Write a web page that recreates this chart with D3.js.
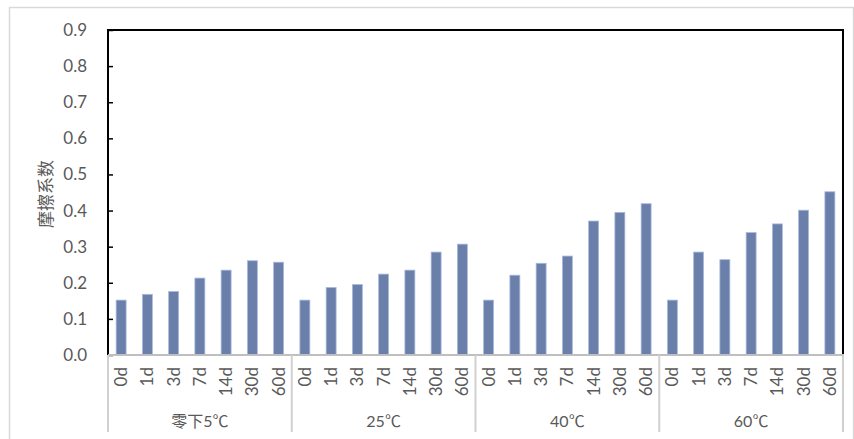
<!DOCTYPE html>
<html>
<head>
<meta charset="utf-8">
<script src="https://cdn.jsdelivr.net/npm/d3@7"></script>
<style>
  body { margin: 0; background: #fff; }
  text { font-family: Lato, "Noto Sans CJK SC", sans-serif; }
</style>
</head>
<body>
<div id="chart"></div>
<script>
// data
const groups = ["零下5℃", "25℃", "40℃", "60℃"];
const days = ["0d", "1d", "3d", "7d", "14d", "30d", "60d"];
const minus5 = [0.152, 0.168, 0.176, 0.213, 0.235, 0.261, 0.257];
const t25 = [0.152, 0.187, 0.195, 0.224, 0.235, 0.285, 0.307];
const t40 = [0.152, 0.221, 0.254, 0.274, 0.371, 0.395, 0.419];
const t60 = [0.152, 0.285, 0.264, 0.339, 0.363, 0.401, 0.452];
const yTicks = [0, 0.1, 0.2, 0.3, 0.4, 0.5, 0.6, 0.7, 0.8, 0.9];

const series = [minus5, t25, t40, t60];
const rows = [];
groups.forEach((g, gi) => {
  days.forEach((d, di) => rows.push({group: g, day: d, key: g + "|" + d, value: series[gi][di]}));
});

const W = 854, H = 439;
const plot = {left: 108, right: 843, top: 30, bottom: 355};

const svg = d3.select("#chart").append("svg")
    .attr("width", W)
    .attr("height", H);

// outer chart border
svg.append("rect")
    .attr("x", 9.5).attr("y", 7.5)
    .attr("width", 844).attr("height", 440)
    .attr("fill", "none")
    .attr("stroke", "#d9d9d9")
    .attr("stroke-width", 1.5);

const x = d3.scaleBand()
    .domain(rows.map(d => d.key))
    .range([plot.left, plot.right])
    .paddingInner(0.62)
    .paddingOuter(0.31);

const xg = d3.scaleBand().domain(groups).range([plot.left, plot.right]);

const y = d3.scaleLinear().domain([0, 0.9]).range([plot.bottom, plot.top]);

// bars
svg.selectAll(".bar")
    .data(rows)
    .enter()
    .append("rect")
    .attr("class", "bar")
    .attr("x", d => x(d.key))
    .attr("y", d => y(d.value))
    .attr("width", x.bandwidth())
    .attr("height", d => y(0) - y(d.value))
    .attr("fill", "#6b7fab")
    .attr("stroke", "#a9bbdc")
    .attr("stroke-width", 0.8);

// y axis, ticks pointing inward
const yAxis = svg.append("g")
    .attr("transform", `translate(${plot.left},0)`)
    .call(d3.axisLeft(y).tickValues(yTicks).tickFormat(d3.format(".1f")).tickSize(-5).tickPadding(21));
yAxis.select(".domain").remove();
yAxis.selectAll(".tick line").attr("stroke", "#000").attr("stroke-width", 1.5);
yAxis.selectAll("text")
    .attr("fill", "#595959")
    .style("font-size", "17px");

// plot frame (black on three sides)
svg.append("path")
    .attr("d", `M${plot.left},${plot.bottom}V${plot.top}H${plot.right}V${plot.bottom}`)
    .attr("fill", "none")
    .attr("stroke", "#000")
    .attr("stroke-width", 2);

// category axis line
svg.append("line")
    .attr("x1", plot.left).attr("x2", plot.right + 1)
    .attr("y1", plot.bottom).attr("y2", plot.bottom)
    .attr("stroke", "#bfbfbf")
    .attr("stroke-width", 2);

// group separators
const seps = groups.map(g => xg(g)).concat([plot.right]);
svg.selectAll(".sep")
    .data(seps)
    .enter()
    .append("line")
    .attr("class", "sep")
    .attr("x1", d => d).attr("x2", d => d)
    .attr("y1", plot.bottom).attr("y2", 432)
    .attr("stroke", "#d0d0d0")
    .attr("stroke-width", 2);

// day labels
svg.selectAll(".day")
    .data(rows)
    .enter()
    .append("text")
    .attr("class", "day")
    .attr("transform", d => `translate(${x(d.key) + x.bandwidth() / 2 + 6},367) rotate(-90)`)
    .attr("text-anchor", "end")
    .attr("fill", "#595959")
    .style("font-size", "17px")
    .text(d => d.day);

// group labels
svg.selectAll(".grp")
    .data(groups)
    .enter()
    .append("text")
    .attr("class", "grp")
    .attr("x", d => xg(d) + xg.bandwidth() / 2)
    .attr("y", 427)
    .attr("text-anchor", "middle")
    .attr("fill", "#595959")
    .style("font-size", "16px")
    .text(d => d);

// y title
svg.append("text")
    .attr("transform", "translate(52,194) rotate(-90)")
    .attr("text-anchor", "middle")
    .attr("fill", "#595959")
    .style("font-size", "17px")
    .text("摩擦系数");
</script>
</body>
</html>
